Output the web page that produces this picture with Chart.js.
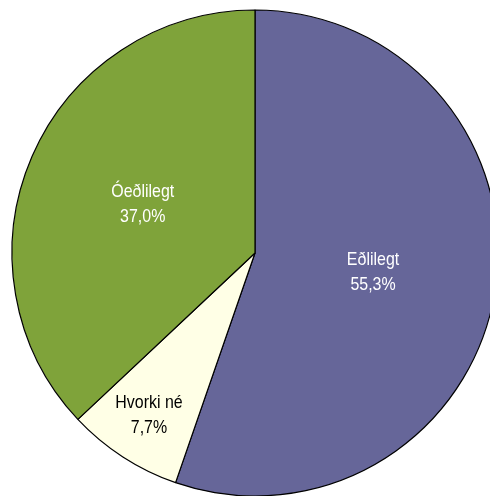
<!DOCTYPE html>
<html>
<head>
<meta charset="utf-8">
<script src="https://cdn.jsdelivr.net/npm/chart.js@4"></script>
<style>
  html, body { margin: 0; padding: 0; background: #fff; overflow: hidden; }
  #wrap { position: absolute; left: 0; top: 0; width: 510px; height: 506px; }
</style>
</head>
<body>
<div id="wrap"><canvas id="pieChart" width="510" height="506"></canvas></div>
<script>
const categories = ['Eðlilegt', 'Hvorki né', 'Óeðlilegt'];
const shares = [55.3, 7.7, 37.0];
const sliceColors = ['#666699', '#FFFFE6', '#7FA33A'];
const labelColors = ['#ffffff', '#000000', '#ffffff'];

// labels inside slices, at a fraction of the radius (narrow font look via x-scale)
const sliceLabels = {
    id: 'sliceLabels',
    afterDatasetsDraw(chart, args, opts) {
        const ctx = chart.ctx;
        const meta = chart.getDatasetMeta(0);
        meta.data.forEach((arc, i) => {
            const mid = (arc.startAngle + arc.endAngle) / 2;
            const r = arc.outerRadius * opts.radius[i];
            const x = arc.x + Math.cos(mid) * r + opts.dx[i];
            const y = arc.y + Math.sin(mid) * r + opts.dy[i];
            ctx.save();
            ctx.translate(x, y);
            ctx.scale(0.84, 1);
            ctx.fillStyle = labelColors[i];
            ctx.font = '19px "Liberation Sans", Arial, sans-serif';
            ctx.textAlign = 'center';
            ctx.textBaseline = 'middle';
            ctx.fillText(categories[i], 0, -12.5);
            ctx.fillText(shares[i].toFixed(1).replace('.', ',') + '%', 0, 12.5);
            ctx.restore();
        });
    }
};

const pieCtx = document.getElementById('pieChart').getContext('2d');
new Chart(pieCtx, {
    type: 'pie',
    data: {
        labels: categories,
        datasets: [{
            data: shares,
            backgroundColor: sliceColors,
            borderColor: '#000000',
            borderWidth: 1.2
        }]
    },
    options: {
        responsive: false,
        animation: false,
        radius: 243,
        layout: { padding: 0 },
        plugins: {
            legend: { display: false },
            tooltip: { enabled: false },
            sliceLabels: { radius: [0.48, 0.81, 0.49], dx: [3, 1, -3], dy: [0, -3, -1] }
        }
    },
    plugins: [sliceLabels]
});
</script>
</body>
</html>
